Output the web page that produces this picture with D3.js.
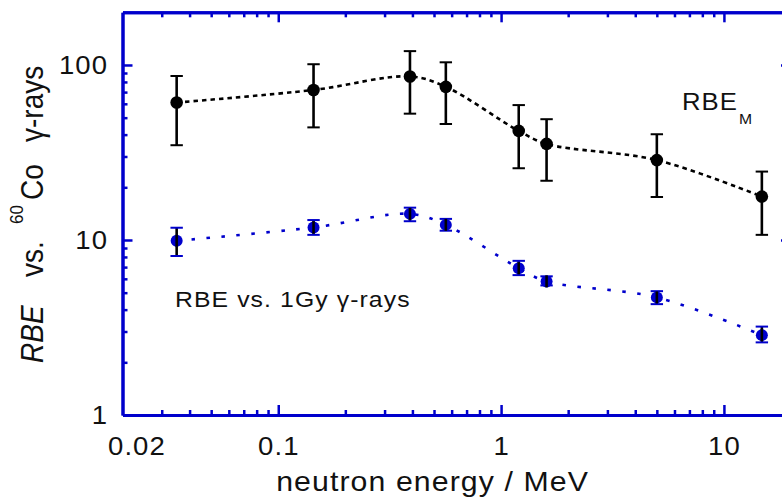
<!DOCTYPE html>
<html>
<head>
<meta charset="utf-8">
<script src="https://cdn.jsdelivr.net/npm/d3@7"></script>
<style>
  html, body { margin: 0; padding: 0; background: #fff; }
  svg { display: block; }
  text { font-family: "Liberation Sans", Arial, Helvetica, sans-serif; fill: #111; }
</style>
</head>
<body>
<script>
// Neutron energies (MeV)
const energy = [0.035, 0.144, 0.39, 0.565, 1.2, 1.6, 5, 14.8];

// RBE_M vs. 60Co gamma-rays, with error-bar limits
const rbeM     = [61, 72, 86, 75, 42, 35.4, 28.6, 17.7];
const rbeMLow  = [34.8, 44, 52.7, 46, 25.7, 21.8, 17.6, 10.7];
const rbeMHigh = [86.5, 101, 120, 103.6, 59, 49, 40.2, 24.6];

// RBE vs. 1 Gy gamma-rays, with error-bar limits
const rbe1Gy     = [9.9, 11.8, 14.1, 12.2, 6.9, 5.8, 4.7, 2.86];
const rbe1GyLow  = [8.1, 10.7, 12.8, 11.3, 6.3, 5.5, 4.3, 2.6];
const rbe1GyHigh = [11.75, 13.0, 15.3, 13.2, 7.6, 6.2, 5.1, 3.2];

// Axis ticks and labels
const xMajor = [0.1, 1, 10];
const xMinor = [0.03,0.04,0.05,0.06,0.07,0.08,0.09,0.2,0.3,0.4,0.5,0.6,0.7,0.8,0.9,2,3,4,5,6,7,8,9];
const xLabels = ["0.02", "0.1", "1", "10"];
const yMajor = [10, 100];
const yMinor = [2,3,4,5,6,7,8,9,20,30,40,50,60,70,80,90];
const yLabels = ["1", "10", "100"];

const W = 782, H = 497;
const plotLeft = 122.5, plotRight = 791, plotTop = 12.3, plotBottom = 415;
const axisBlue = "#0000cc";
const pointBlue = "#0000cc";
const stretch = 1.1;     // wide lettering
const spacing = 1;       // extra letter spacing

const svg = d3.select("body").append("svg").attr("width", W).attr("height", H);

const x = d3.scaleLog().domain([0.02, 20]).range([plotLeft, plotRight]);
const y = d3.scaleLog().domain([1, 200]).range([plotBottom, plotTop]);

// text drawn at (px, py) with a horizontal stretch and light letter spacing
function wideText(parent, px, py, size, sx, anchor) {
  const a = anchor || "start";
  const shift = a === "end" ? spacing : a === "middle" ? spacing / 2 : 0;
  return parent.append("g")
    .attr("transform", `translate(${px + shift * sx},${py}) scale(${sx},1)`)
    .append("text")
    .attr("text-anchor", a)
    .style("letter-spacing", spacing + "px")
    .style("font-size", size + "px");
}

// ---- axes (ticks point inward on all four sides) ----
function styleAxis(g) {
  g.selectAll("path.domain").attr("stroke", axisBlue).attr("stroke-width", 3);
  g.selectAll(".tick line").attr("stroke", axisBlue).attr("stroke-width", 2.5);
  g.selectAll(".tick text").remove();
}
function addAxis(axisFn, scale, vals, size, transform) {
  const g = svg.append("g").attr("transform", transform)
    .call(axisFn(scale).tickValues(vals).tickSize(size).tickSizeOuter(0).tickFormat(""));
  styleAxis(g);
  return g;
}
addAxis(d3.axisBottom, x, xMinor, -5, `translate(0,${plotBottom})`);
addAxis(d3.axisBottom, x, xMajor, -10, `translate(0,${plotBottom})`);
addAxis(d3.axisTop, x, xMinor, -5, `translate(0,${plotTop})`);
addAxis(d3.axisTop, x, xMajor, -10, `translate(0,${plotTop})`);
addAxis(d3.axisLeft, y, yMinor, -5, `translate(${plotLeft},0)`);
addAxis(d3.axisLeft, y, yMajor, -10, `translate(${plotLeft},0)`);
addAxis(d3.axisRight, y, yMinor, -5, `translate(${plotRight},0)`);
addAxis(d3.axisRight, y, yMajor, -10, `translate(${plotRight},0)`);

// ---- tick labels ----
const tickFont = 25;
const xl = svg.append("g");
xLabels.forEach((d, i) => {
  const first = i === 0;
  wideText(xl, first ? x(+d) - 14.5 : x(+d), 455, tickFont, stretch, first ? "start" : "middle").text(d);
});
const yl = svg.append("g");
yLabels.forEach(d => {
  wideText(yl, 107, y(+d), tickFont, stretch, "end").attr("dy", "0.36em").text(d);
});

// ---- axis titles ----
wideText(svg, 432, 491, 27.5, stretch, "middle").text("neutron energy / MeV");

const yt = svg.append("g")
  .attr("transform", "translate(43,363) scale(1.1,1) rotate(-90)")
  .append("text")
  .style("font-size", "28px");
yt.append("tspan").attr("x", 0).style("font-style", "italic").text("RBE");
yt.append("tspan").attr("x", 86).text("vs.");
yt.append("tspan").attr("x", 139).attr("dy", -18).style("font-size", "17px").text("60");
yt.append("tspan").attr("x", 163).attr("dy", 18).text("Co");
yt.append("tspan").attr("x", 221).text("\u03b3-rays");

// ---- connecting curves ----
const rowsM = energy.map((e, i) => ({ e, v: rbeM[i], lo: rbeMLow[i], hi: rbeMHigh[i] }));
const rows1 = energy.map((e, i) => ({ e, v: rbe1Gy[i], lo: rbe1GyLow[i], hi: rbe1GyHigh[i] }));

const line = d3.line().x(d => x(d.e)).y(d => y(d.v)).curve(d3.curveCatmullRom.alpha(0.5));

svg.append("path").datum(rowsM).attr("d", line)
  .attr("fill", "none").attr("stroke", "#000").attr("stroke-width", 2.6)
  .attr("stroke-dasharray", "4.5,4");
svg.append("path").datum(rows1).attr("d", line)
  .attr("fill", "none").attr("stroke", pointBlue).attr("stroke-width", 2.6)
  .attr("stroke-dasharray", "3.5,11.5");

// ---- error bars ----
function errorBars(rows, stemColor, capColor) {
  const g = svg.append("g");
  g.selectAll("line.stem").data(rows).join("line")
    .attr("x1", d => x(d.e)).attr("x2", d => x(d.e))
    .attr("y1", d => y(d.lo)).attr("y2", d => y(d.hi))
    .attr("stroke", stemColor).attr("stroke-width", 2.6);
  const capHalf = 6.2;
  ["lo", "hi"].forEach(k => {
    g.selectAll("line.cap-" + k).data(rows).join("line")
      .attr("x1", d => x(d.e) - capHalf).attr("x2", d => x(d.e) + capHalf)
      .attr("y1", d => y(d[k])).attr("y2", d => y(d[k]))
      .attr("stroke", capColor).attr("stroke-width", 2);
  });
  return g;
}
errorBars(rowsM, "#000", "#000");
errorBars(rows1, "#000", pointBlue);

// ---- markers ----
svg.append("g").selectAll("circle").data(rowsM).join("circle")
  .attr("cx", d => x(d.e)).attr("cy", d => y(d.v)).attr("r", 6.3)
  .attr("fill", "#000");
const m1 = svg.append("g");
m1.selectAll("circle").data(rows1).join("circle")
  .attr("cx", d => x(d.e)).attr("cy", d => y(d.v)).attr("r", 6)
  .attr("fill", pointBlue);
// stems drawn over the blue markers
m1.selectAll("line").data(rows1).join("line")
  .attr("x1", d => x(d.e)).attr("x2", d => x(d.e))
  .attr("y1", d => y(d.v) - 6).attr("y2", d => y(d.v) + 6)
  .attr("stroke", "#000").attr("stroke-width", 2.6);

// ---- series annotations ----
const ann = wideText(svg, 682, 110, 24.5, 1.05, "start");
ann.append("tspan").text("RBE");
ann.append("tspan").attr("dx", 1).attr("dy", 14).style("font-size", "15px").text("M");

wideText(svg, 175, 307, 22.5, stretch, "start").text("RBE vs. 1Gy \u03b3-rays");
</script>
</body>
</html>
